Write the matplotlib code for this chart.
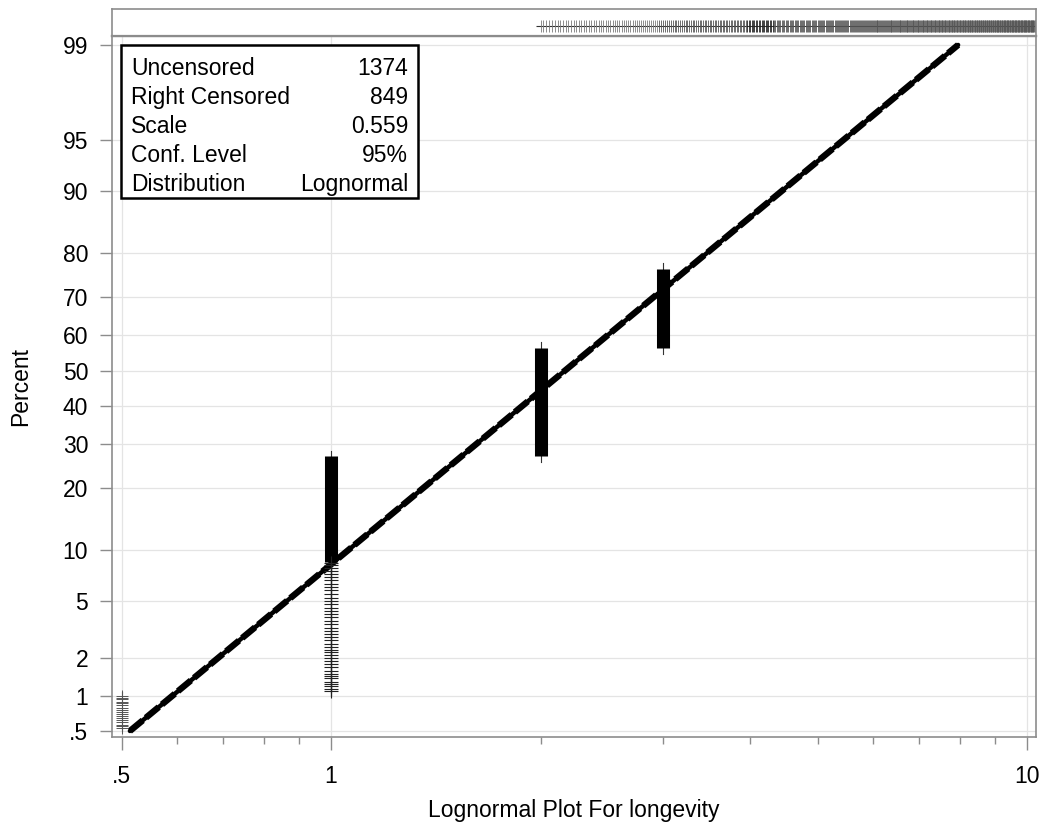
from statistics import NormalDist

import matplotlib
matplotlib.use("Agg")
import matplotlib.pyplot as plt
import numpy as np
from matplotlib.patches import Rectangle
from matplotlib.ticker import NullLocator

plt.rcParams["font.family"] = ["Liberation Sans", "DejaVu Sans"]
plt.rcParams["lines.scale_dashes"] = False

# ---- data ----
# uncensored columns: solid (overlapping) part and thin whisker range, in percent
col_x = [0.5, 1.0, 2.0, 3.0]
col_solid_lo = [None, 8.6, 27.1, 56.4]
col_solid_hi = [None, 27.0, 56.4, 76.6]
col_whisk_lo = [0.50, 1.0, 25.7, 54.7]
col_whisk_hi = [1.08, 28.2, 58.1, 77.9]

# individual "+" marks that are still distinguishable
marks_05 = [1.0, 0.97, 0.94, 0.9, 0.87, 0.84, 0.8, 0.77, 0.74, 0.71,
            0.68, 0.65, 0.62, 0.6, 0.57, 0.55, 0.53]
marks_1 = [8.5, 8.2, 7.9, 7.6, 7.3, 7.0, 6.7, 6.4, 6.1, 5.8, 5.5, 5.2,
           5.0, 4.75, 4.5, 4.3, 4.1, 3.9, 3.7, 3.5, 3.3, 3.15, 3.0, 2.85,
           2.7, 2.55, 2.4, 2.3, 2.2, 2.1, 2.0, 1.9, 1.8, 1.7, 1.6, 1.5,
           1.45, 1.4, 1.3, 1.25, 1.2, 1.15, 1.1]

# right censored times, recorded by week: (first week, last week, marks per week)
cens_week_ranges = [(104, 153, 1), (154, 205, 2), (206, 224, 3), (225, 535, 2)]
weeks_per_year = 52.0

# fitted lognormal line (straight on probability paper), endpoints
fit_x = [0.514, 7.96]
fit_pct = [0.5, 99.0]

y_ticks = [0.5, 1, 2, 5, 10, 20, 30, 40, 50, 60, 70, 80, 90, 95, 99]
y_labels = [".5", "1", "2", "5", "10", "20", "30", "40", "50", "60",
            "70", "80", "90", "95", "99"]
x_ticks = [0.5, 1, 10]
x_labels = [".5", "1", "10"]
x_minor = [0.6, 0.7, 0.8, 0.9, 2, 3, 4, 5, 6, 7, 8, 9]

box_labels = ["Uncensored", "Right Censored", "Scale", "Conf. Level", "Distribution"]
box_values = ["1374", "849", "0.559", "95%", "Lognormal"]

_nd = NormalDist()
_ppf = np.vectorize(_nd.inv_cdf, otypes=[float])
_cdf = np.vectorize(_nd.cdf, otypes=[float])


def probit(pct):
    p = np.clip(np.asarray(pct, dtype=float) / 100.0, 1e-9, 1 - 1e-9)
    return _ppf(p)


def inv_probit(z):
    return _cdf(np.asarray(z, dtype=float)) * 100.0


GRAY = "#8c8c8c"
GRID = "#e4e4e4"
FS = 16.5

fig = plt.figure(figsize=(10.45, 8.3), dpi=100)
ax = fig.add_axes([0.1069, 0.1120, 0.8845, 0.8446])
strip = fig.add_axes([0.1069, 0.9566, 0.8845, 0.0326], sharex=ax)

ax.set_xscale("log")
ax.set_yscale("function", functions=(probit, inv_probit))
ax.set_xlim(0.484, 10.3)
ax.set_ylim(float(inv_probit(-2.619)), float(inv_probit(2.390)))

ax.set_yticks(y_ticks, y_labels)
ax.yaxis.set_minor_locator(NullLocator())
ax.set_xticks(x_ticks, x_labels)
ax.set_xticks(x_minor, minor=True)
ax.set_xticklabels([], minor=True)

ax.tick_params(axis="both", which="major", labelsize=FS, color=GRAY, length=9, width=1)
ax.tick_params(axis="y", pad=8)
ax.tick_params(axis="x", pad=11)
ax.tick_params(axis="x", which="minor", color=GRAY, length=5, width=1)
for spine in ax.spines.values():
    spine.set_color(GRAY)
    spine.set_linewidth(1.2)
ax.spines["top"].set_linewidth(1.6)

ax.set_axisbelow(True)
ax.grid(True, which="major", color=GRID, linewidth=0.9)

# fitted line: solid core with a thicker dashed overlay
ax.plot(fit_x, fit_pct, color="black", linewidth=3.2, solid_capstyle="round")
ax.plot(fit_x, fit_pct, color="black", linewidth=4.6, dashes=(12, 3))

# uncensored columns
for x, s_lo, s_hi, w_lo, w_hi in zip(col_x, col_solid_lo, col_solid_hi, col_whisk_lo, col_whisk_hi):
    ax.plot([x, x], [w_lo, w_hi], color="#333333", linewidth=0.8)
    if s_lo is not None:
        ax.plot([x, x], [s_lo, s_hi], color="black", linewidth=9.4, solid_capstyle="butt")

ax.plot([col_x[0]] * len(marks_05), marks_05, linestyle="none", marker="+",
        markersize=8.5, markeredgewidth=0.7, color="#555555")
ax.plot([col_x[1]] * len(marks_1), marks_1, linestyle="none", marker="+",
        markersize=9.4, markeredgewidth=0.8, color="#222222")

ax.set_xlabel("Lognormal Plot For longevity", fontsize=FS, labelpad=8)
ax.set_ylabel("Percent", fontsize=FS, labelpad=22)

# statistics box
ax.add_patch(Rectangle((0.0101, 0.769), 0.321, 0.218, transform=ax.transAxes,
                       fill=True, facecolor="white", edgecolor="black",
                       linewidth=1.8, zorder=5))
row0 = 0.954
row_step = 0.0414
for i, (lab, val) in enumerate(zip(box_labels, box_values)):
    y = row0 - i * row_step
    ax.text(0.0209, y, lab, transform=ax.transAxes, fontsize=FS,
            ha="left", va="center", zorder=6)
    ax.text(0.3207, y, val, transform=ax.transAxes, fontsize=FS,
            ha="right", va="center", zorder=6)

# censored strip
cens_x = []
cens_n = []
for first, last, n in cens_week_ranges:
    for w in range(first, last + 1):
        cens_x.append(w / weeks_per_year)
        cens_n.append(n)
cens_x = np.array(cens_x)
cens_n = np.array(cens_n)
strip.set_ylim(0, 1)
strip.hlines(0.38, 1.97, 10.4, color="#333333", linewidth=0.8)
shade = {1: "#7a7a7a", 2: "#555555", 3: "#202020"}
for n, col in shade.items():
    sel = cens_n == n
    strip.vlines(cens_x[sel], 0.15, 0.6, color=col, linewidth=0.6)
strip.set_yticks([])
strip.tick_params(axis="x", which="both", bottom=False, labelbottom=False)
strip.grid(False)
for spine in strip.spines.values():
    spine.set_color(GRAY)
    spine.set_linewidth(1.2)
strip.spines["bottom"].set_linewidth(1.6)

fig.savefig("out.png", dpi=100)
